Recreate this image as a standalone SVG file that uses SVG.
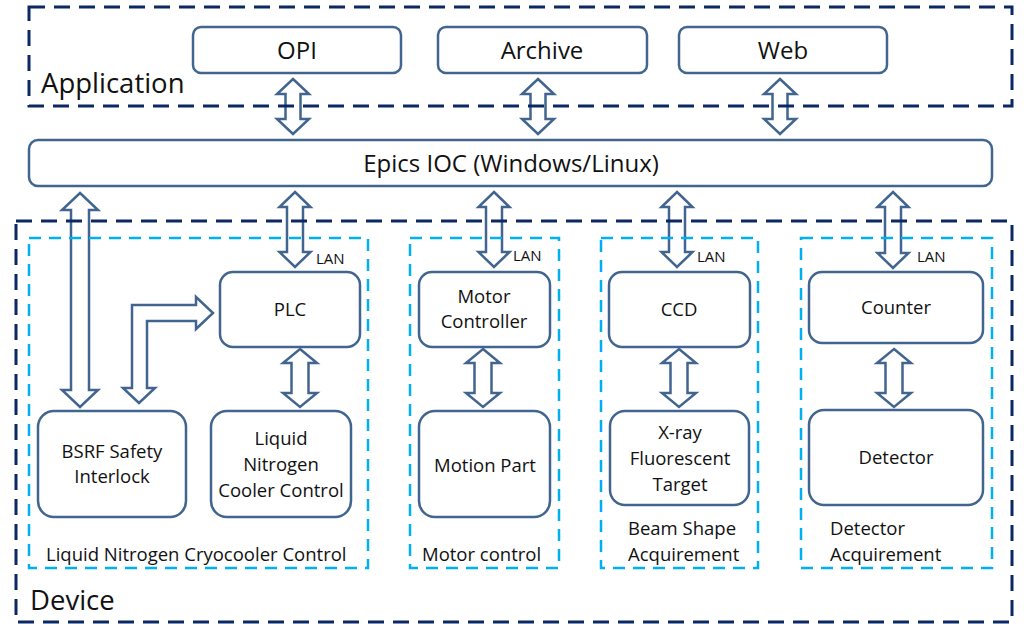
<svg xmlns="http://www.w3.org/2000/svg" width="1024" height="624" viewBox="0 0 1024 624">
  <style>
    .node { fill: #ffffff; stroke: #41658f; stroke-width: 2.5; }
    .arrow { fill: #ffffff; stroke: #41658f; stroke-width: 2.5; stroke-linejoin: miter; }
    .layer { fill: none; stroke: #0b2862; stroke-width: 3; stroke-dasharray: 16 9; }
    .group { fill: none; stroke: #00b0f0; stroke-width: 2.5; stroke-dasharray: 12 8; }
    text { font-family: "Open Sans", "Noto Sans", "Liberation Sans", sans-serif; fill: #111111; }
    .t { font-size: 18.5px; text-anchor: middle; }
    .big { font-size: 24px; text-anchor: middle; }
    .layerlabel { font-size: 27.5px; }
    .lan { font-size: 15px; }
    .glabel { font-size: 18.5px; }
  </style>
  <rect width="1024" height="624" fill="#ffffff"/>

  <!-- connectors: hollow double-headed arrows -->
  <g id="connectors">
    <!-- application to IOC -->
    <polygon class="arrow" points="293,79 309,94 300.5,94 300.5,119 309,119 293,134 277,119 285.5,119 285.5,94 277,94"/>
    <polygon class="arrow" points="538,79 554,94 545.5,94 545.5,119 554,119 538,134 522,119 530.5,119 530.5,94 522,94"/>
    <polygon class="arrow" points="780,79 796,94 787.5,94 787.5,119 796,119 780,134 764,119 772.5,119 772.5,94 764,94"/>
    <!-- IOC to devices -->
    <polygon class="arrow" points="80,193 98,210 89,210 89,390 98,390 80,407 62,390 71,390 71,210 62,210"/>
    <polygon class="arrow" points="295,192 310.5,207 303,207 303,252 310.5,252 295,267 279.5,252 287,252 287,207 279.5,207"/>
    <polygon class="arrow" points="494,192 509.5,207 502,207 502,252 509.5,252 494,267 478.5,252 486,252 486,207 478.5,207"/>
    <polygon class="arrow" points="677,192 692.5,207 685,207 685,252 692.5,252 677,267 661.5,252 669,252 669,207 661.5,207"/>
    <polygon class="arrow" points="893,192 908.5,207 901,207 901,253 908.5,253 893,268 877.5,253 885,253 885,207 877.5,207"/>
    <!-- interlock to PLC (elbow) -->
    <polygon class="arrow" points="139,403 123,388 132,388 132,305 196,305 196,297 213,313 196,329 196,321 147,321 147,388 155,388"/>
    <!-- controller to device part -->
    <polygon class="arrow" points="300,349 317,363 308.5,363 308.5,393 317,393 300,407 283,393 291.5,393 291.5,363 283,363"/>
    <polygon class="arrow" points="483,349 500,363 491.5,363 491.5,393 500,393 483,407 466,393 474.5,393 474.5,363 466,363"/>
    <polygon class="arrow" points="679,349 696,363 687.5,363 687.5,393 696,393 679,407 662,393 670.5,393 670.5,363 662,363"/>
    <polygon class="arrow" points="894,349 911,363 902.5,363 902.5,393 911,393 894,407 877,393 885.5,393 885.5,363 877,363"/>
  </g>

  <!-- layers -->
  <g id="application-layer">
    <rect class="layer" x="29" y="7" width="983" height="99"/>
    <text class="layerlabel" x="41" y="93">Application</text>
  </g>
  <g id="device-layer">
    <rect class="layer" x="16" y="221" width="996" height="401"/>
    <text class="layerlabel" x="30" y="610">Device</text>
  </g>

  <!-- subsystem groups -->
  <g id="group-cryocooler">
    <rect class="group" x="29" y="238" width="339" height="330"/>
    <text class="glabel" x="46" y="561">Liquid Nitrogen Cryocooler Control</text>
  </g>
  <g id="group-motor">
    <rect class="group" x="410" y="238" width="149" height="330"/>
    <text class="glabel" x="422" y="561">Motor control</text>
  </g>
  <g id="group-beam">
    <rect class="group" x="601" y="238" width="157" height="330"/>
    <text class="glabel" x="628" y="535">Beam Shape</text>
    <text class="glabel" x="628" y="561">Acquirement</text>
  </g>
  <g id="group-detector">
    <rect class="group" x="801" y="238" width="191" height="330"/>
    <text class="glabel" x="830" y="535">Detector</text>
    <text class="glabel" x="830" y="561">Acquirement</text>
  </g>

  <!-- application nodes -->
  <g id="opi">
    <rect class="node" x="193" y="27" width="208" height="46" rx="8"/>
    <text class="big" x="297" y="59">OPI</text>
  </g>
  <g id="archive">
    <rect class="node" x="438" y="27" width="209" height="46" rx="8"/>
    <text class="big" x="542" y="59">Archive</text>
  </g>
  <g id="web">
    <rect class="node" x="679" y="27" width="208" height="46" rx="8"/>
    <text class="big" x="783" y="59">Web</text>
  </g>

  <!-- IOC -->
  <g id="epics-ioc">
    <rect class="node" x="29" y="140" width="963" height="46" rx="9"/>
    <text class="big" x="511" y="172">Epics IOC (Windows/Linux)</text>
  </g>

  <!-- device nodes -->
  <g id="plc">
    <rect class="node" x="220" y="272" width="140" height="75" rx="13"/>
    <text class="t" x="290" y="316">PLC</text>
  </g>
  <g id="bsrf-interlock">
    <rect class="node" x="38" y="411" width="148" height="106" rx="16"/>
    <text class="t" x="112" y="458">BSRF Safety</text>
    <text class="t" x="112" y="483">Interlock</text>
  </g>
  <g id="ln-cooler-control">
    <rect class="node" x="211" y="411" width="140" height="106" rx="16"/>
    <text class="t" x="281" y="445">Liquid</text>
    <text class="t" x="281" y="471">Nitrogen</text>
    <text class="t" x="281" y="497">Cooler Control</text>
  </g>
  <g id="motor-controller">
    <rect class="node" x="419" y="272" width="131" height="75" rx="13"/>
    <text class="t" x="484" y="303">Motor</text>
    <text class="t" x="484" y="328">Controller</text>
  </g>
  <g id="motion-part">
    <rect class="node" x="419" y="411" width="131" height="106" rx="16"/>
    <text class="t" x="485" y="472">Motion Part</text>
  </g>
  <g id="ccd">
    <rect class="node" x="609" y="272" width="141" height="75" rx="13"/>
    <text class="t" x="679" y="316">CCD</text>
  </g>
  <g id="xray-target">
    <rect class="node" x="610" y="411" width="139" height="94" rx="15"/>
    <text class="t" x="680" y="439">X-ray</text>
    <text class="t" x="680" y="465">Fluorescent</text>
    <text class="t" x="680" y="491">Target</text>
  </g>
  <g id="counter">
    <rect class="node" x="809" y="272" width="174" height="71" rx="13"/>
    <text class="t" x="896" y="314">Counter</text>
  </g>
  <g id="detector">
    <rect class="node" x="809" y="410" width="174" height="95" rx="15"/>
    <text class="t" x="896" y="464">Detector</text>
  </g>

  <!-- network labels -->
  <g id="lan-labels">
    <text class="lan" x="316" y="264">LAN</text>
    <text class="lan" x="513" y="261">LAN</text>
    <text class="lan" x="697" y="262">LAN</text>
    <text class="lan" x="917" y="262">LAN</text>
  </g>
</svg>
